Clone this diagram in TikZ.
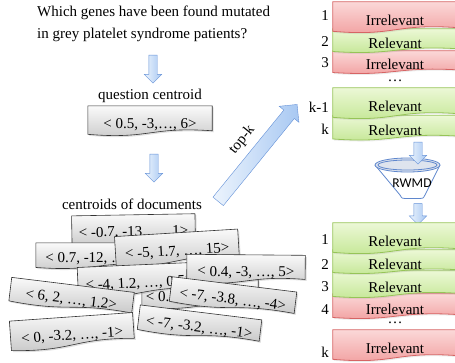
\documentclass[tikz,border=0pt]{standalone}
\usepackage{fontspec}
\setmainfont{Liberation Serif}
\newfontfamily\rwmdfont{Carlito}
\usetikzlibrary{shapes,shapes.arrows,calc,shadows}

\definecolor{arrowline}{RGB}{100,145,215}
\definecolor{arrowlight}{RGB}{236,244,253}
\definecolor{arrowfill}{RGB}{168,200,242}
\definecolor{greenline}{RGB}{150,196,88}
\definecolor{greentop}{RGB}{236,248,214}
\definecolor{greenbot}{RGB}{194,230,146}
\definecolor{redline}{RGB}{214,100,100}
\definecolor{redtop}{RGB}{251,216,216}
\definecolor{redbot}{RGB}{241,158,158}
\definecolor{funnelline}{RGB}{95,135,205}
\definecolor{funneltop}{RGB}{222,228,238}

% box with a wavy lower edge, drawn round a named frame node
\newcommand{\docshape}[2]{%
	\draw[#1] (#2.north west) -- (#2.north east)
		-- ($(#2.south east)!0.15!(#2.north east)$)
		.. controls ($(#2.south)!0.3!(#2.north)$) and ($(#2.south)!-0.15!(#2.north)$)
		.. ($(#2.south west)!0.03!(#2.north west)$) -- cycle;}
% name, centre, angle, width, height, style, text
\newcommand{\doccard}[7]{%
	\path (#2) node[frame,rotate=#3,minimum width=#4,minimum height=#5] (#1) {};
	\docshape{#6}{#1}
	\node[rotate=#3] (#1-text) at ($(#1.center)!0.25!(#1.south)$) {#7};}

\begin{document}
\begin{tikzpicture}[x=1pt,y=-1pt,
	every node/.style={font=\rmfamily\fontsize{15}{18}\selectfont},
	frame/.style={rectangle,inner sep=0pt},
	card/.style={draw=black!80,line width=0.6pt,top color=gray!4,bottom color=gray!42,
		drop shadow={opacity=0.25,shadow xshift=1.5pt,shadow yshift=-1.5pt}},
	good/.style={draw=greenline,line width=0.8pt,top color=greentop,bottom color=greenbot,
		drop shadow={opacity=0.15,shadow xshift=1pt,shadow yshift=-1.5pt}},
	bad/.style={draw=redline,line width=0.8pt,top color=redtop,bottom color=redbot,
		drop shadow={opacity=0.15,shadow xshift=1pt,shadow yshift=-1.5pt}},
	num/.style={anchor=east,inner sep=1pt},
	varrow/.style={single arrow,draw=arrowline,left color=arrowlight,right color=arrowfill,
		inner sep=0pt,text height=8pt,text depth=0pt,single arrow head extend=4.5pt,rotate=-90},
	karrow/.style={single arrow,draw=arrowline,left color=arrowlight,right color=arrowfill,
		inner sep=0pt,text height=13pt,text depth=0pt,single arrow head extend=6pt},
	funnel/.style={draw=funnelline,line width=0.8pt}]

	\useasboundingbox (0,0) rectangle (455,362);
	\clip (0,0) rectangle (455,362);

	% question side
	\node[anchor=north west,align=left,inner sep=0pt,font=\rmfamily\fontsize{15}{22}\selectfont] (question) at (37,6)
		{Which genes have been found mutated\\in grey platelet syndrome patients?};
	\node[varrow,minimum height=28] (down1) at (153,67) {};
	\node (qlabel) at (150,96) {question centroid};
	\doccard{qcent}{150,120.5}{0}{124}{29}{card}{< 0.5, -3,…, 6>}
	\node[varrow,minimum height=28] (down2) at (154,166) {};
	\node (dlabel) at (132,204) {centroids of documents};

	% documents
	\doccard{cA}{133.5,229}{1}{123}{28}{card}{< -0.7, -13, …, 1>}
	\doccard{cB}{97.5,255.5}{0}{123}{25}{card}{< 0.7, -12, …, 2>}
	\doccard{cC}{177,248}{3.5}{123}{30}{card}{< -5, 1.7, …, 15>}
	\doccard{cG}{200,294}{0}{116}{28}{card}{< 0.3, -1.5, …, 2>}
	\doccard{cE}{139.5,280}{2.5}{123}{30}{card}{< -4, 1.2, …, 0.5>}
	\doccard{cD}{246,269}{-0.5}{118}{28}{card}{< 0.4, -3, …, 5>}
	\doccard{cH}{71.5,297}{-7}{123}{24}{card}{< 6, 2, …, 1.2>}
	\doccard{cF}{233,297}{-7}{125}{25}{card}{< -7, -3.8, …, -4>}
	\doccard{cJ}{199.5,325}{-7}{122}{25}{card}{< -7, -3.2, …, -1>}
	\doccard{cI}{72,332}{4}{123}{30}{card}{< 0, -3.2, …, -1>}

	% top-k
	\coordinate (ktail) at (216,204);
	\coordinate (khead) at (295,107);
	\path (ktail) -- (khead) node[karrow,midway,sloped,minimum height=125] (topk) {};
	\path (ktail) -- (khead) node[pos=0.53,sloped,above=10pt] (topklabel) {top-k};

	% first ranking
	\doccard{tk}{395,127.5}{0}{124}{24}{good}{Relevant}
	\doccard{tkm}{395,103}{0}{124}{30}{good}{Relevant}
	\doccard{t3}{395,62}{0}{124}{22}{bad}{Irrelevant}
	\doccard{t2}{395,40.5}{0}{124}{23}{good}{Relevant}
	\doccard{t1}{395,17}{0}{124}{30}{bad}{Irrelevant}
	\node (tdots) at (395,81) {…};
	\node[num] (n-t1) at (330,16) {1};
	\node[num] (n-t2) at (330,42) {2};
	\node[num] (n-t3) at (330,63) {3};
	\node[num] (n-tkm) at (330,107) {k-1};
	\node[num] (n-tk) at (330,129) {k};

	% RWMD
	\draw[funnel,fill=white] (375,165) -- (400,195) .. controls (402,198.5) .. (405,198.5)
		-- (420,198.5) .. controls (423,198.5) .. (425,195) -- (440,165);
	\draw[funnel,fill=funneltop] (407.5,165) ellipse [x radius=32.5,y radius=7];
	\draw[funnel] (407.5,165) ellipse [x radius=29.5,y radius=5];
	\node[font=\rwmdfont\fontsize{13.5}{16}\selectfont] (rwmd) at (412,183) {RWMD};
	\node[varrow,minimum height=22] (down3) at (418,151) {};
	\node[varrow,minimum height=21] (down4) at (418,212) {};

	% second ranking
	\doccard{bk}{395,345}{0}{124}{30}{bad}{Irrelevant}
	\doccard{b4}{395,306}{0}{124}{24}{bad}{Irrelevant}
	\doccard{b3}{395,284}{0}{124}{26}{good}{Relevant}
	\doccard{b2}{395,261.5}{0}{124}{23}{good}{Relevant}
	\doccard{b1}{395,238}{0}{124}{30}{good}{Relevant}
	\node (bdots) at (395,323) {…};
	\node[num] (n-b1) at (330,240) {1};
	\node[num] (n-b2) at (330,265) {2};
	\node[num] (n-b3) at (330,287) {3};
	\node[num] (n-b4) at (330,310) {4};
	\node[num] (n-bk) at (330,352) {k};

\end{tikzpicture}
\end{document}
